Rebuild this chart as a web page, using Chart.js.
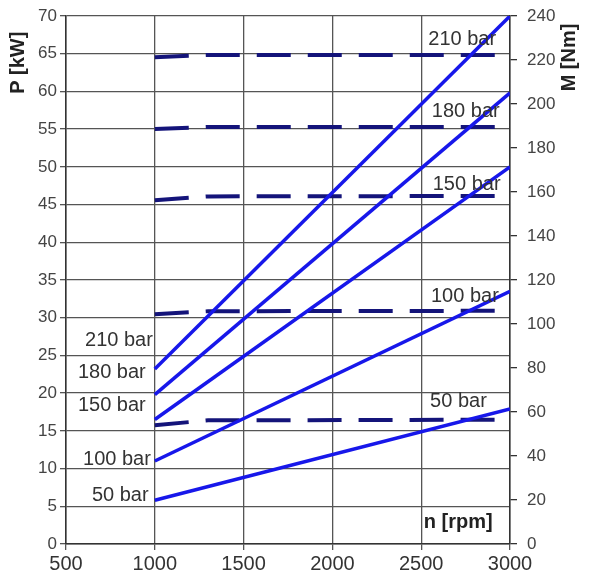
<!DOCTYPE html>
<html>
<head>
<meta charset="utf-8">
<script src="https://cdn.jsdelivr.net/npm/chart.js"></script>
<style>
html, body { margin: 0; padding: 0; background: #fff; }
#wrap { width: 595px; height: 586px; }
</style>
</head>
<body>
<div id="wrap"><canvas id="myChart"></canvas></div>
<script>
// speeds (rpm)
var rpm = [1000, 3000];
var torqueRpm = [1000, 1300, 3000];

// power P [kW] per pressure (left axis)
var power210 = [23.2, 70.0];
var power180 = [19.8, 59.8];
var power150 = [16.5, 50.0];
var power100 = [11.0, 33.5];
var power50 = [5.8, 17.9];

// torque M [Nm] per pressure (right axis)
var torque210 = [221.3, 222.3, 222.3];
var torque180 = [188.6, 189.6, 189.6];
var torque150 = [156.3, 158.0, 158.2];
var torque100 = [104.4, 105.8, 106.0];
var torque50 = [54.0, 56.2, 56.5];

var pressures = ['210 bar', '180 bar', '150 bar', '100 bar', '50 bar'];

// label anchors, in data units (rpm, kW)
var leftLabelRpm = [607, 567, 567, 596, 646];
var leftLabelKw = [27.0, 22.7, 18.3, 11.2, 6.4];
var rightLabelRpm = [2540, 2560, 2565, 2555, 2550];
var rightLabelKw = [66.9, 57.3, 47.7, 32.8, 18.9];

var powerSets = [power210, power180, power150, power100, power50];
var torqueSets = [torque210, torque180, torque150, torque100, torque50];

function pts(xs, ys) {
    var out = [];
    for (var i = 0; i < xs.length; i++) out.push({x: xs[i], y: ys[i]});
    return out;
}

var datasets = [];
for (var i = 0; i < pressures.length; i++) {
    datasets.push({
        label: 'P ' + pressures[i],
        data: pts(rpm, powerSets[i]),
        yAxisID: 'y',
        borderColor: '#1717ea',
        borderWidth: 3.5,
        pointRadius: 0,
        fill: false
    });
}
for (var j = 0; j < pressures.length; j++) {
    datasets.push({
        label: 'M ' + pressures[j],
        data: pts(torqueRpm, torqueSets[j]),
        yAxisID: 'y1',
        borderColor: '#14147a',
        borderWidth: 4,
        borderDash: [34, 17],
        pointRadius: 0,
        fill: false
    });
}

var textPlugin = {
    id: 'textPlugin',
    afterDatasetsDraw: function(chart) {
        var ctx = chart.ctx;
        var x = chart.scales.x, y = chart.scales.y, y1 = chart.scales.y1;
        ctx.save();
        ctx.fillStyle = '#333';
        ctx.font = '20px "Liberation Sans", Arial, sans-serif';
        ctx.textBaseline = 'middle';
        ctx.textAlign = 'left';
        for (var i = 0; i < pressures.length; i++) {
            ctx.fillText(pressures[i], x.getPixelForValue(leftLabelRpm[i]), y.getPixelForValue(leftLabelKw[i]));
            ctx.fillText(pressures[i], x.getPixelForValue(rightLabelRpm[i]), y.getPixelForValue(rightLabelKw[i]));
        }
        // axis titles
        ctx.fillStyle = '#222';
        ctx.font = 'bold 20px "Liberation Sans", Arial, sans-serif';
        ctx.textAlign = 'center';
        ctx.fillText('n [rpm]', x.getPixelForValue(2708), y.getPixelForValue(2.9));

        ctx.save();
        ctx.translate(18, y.getPixelForValue(63.8));
        ctx.rotate(-Math.PI / 2);
        ctx.fillText('P [kW]', 0, 0);
        ctx.restore();

        ctx.save();
        ctx.translate(y1.right - 26, y.getPixelForValue(64.5));
        ctx.rotate(-Math.PI / 2);
        ctx.fillText('M [Nm]', 0, 0);
        ctx.restore();
        ctx.restore();
    }
};

function fixPad(s) {
    s.paddingTop = 8;
    s.paddingBottom = 8;
}

var ctx = document.getElementById('myChart').getContext('2d');
var chart = new Chart(ctx, {
    type: 'line',
    data: { datasets: datasets },
    plugins: [textPlugin],
    options: {
        responsive: true,
        maintainAspectRatio: false,
        animation: false,
        layout: { padding: { top: 16, left: 0, right: 0, bottom: 0 } },
        plugins: {
            legend: { display: false },
            tooltip: { enabled: false }
        },
        scales: {
            x: {
                type: 'linear',
                min: 500,
                max: 3000,
                ticks: {
                    stepSize: 500,
                    color: '#333',
                    font: { family: 'Liberation Sans', size: 20 },
                    padding: 2,
                    callback: function(v) { return String(v); }
                },
                grid: { color: '#555', lineWidth: 1.3, tickLength: 6 },
                border: { color: '#333', width: 1.5 },
                afterFit: function(s) { s.height = 42; }
            },
            y: {
                position: 'left',
                min: 0,
                max: 70,
                ticks: {
                    stepSize: 5,
                    color: '#444',
                    font: { family: 'Liberation Sans', size: 17 },
                    padding: 3
                },
                grid: { color: '#555', lineWidth: 1.3, tickLength: 6 },
                border: { color: '#333', width: 1.5 },
                afterFit: function(s) { s.width = 66; fixPad(s); }
            },
            y1: {
                position: 'right',
                min: 0,
                max: 240,
                ticks: {
                    stepSize: 20,
                    color: '#444',
                    font: { family: 'Liberation Sans', size: 17 },
                    padding: 10
                },
                grid: { drawOnChartArea: false, color: '#333', lineWidth: 1.3, tickLength: 7 },
                border: { color: '#333', width: 1.5 },
                afterFit: function(s) { s.width = 85; fixPad(s); }
            }
        }
    }
});
</script>
</body>
</html>
